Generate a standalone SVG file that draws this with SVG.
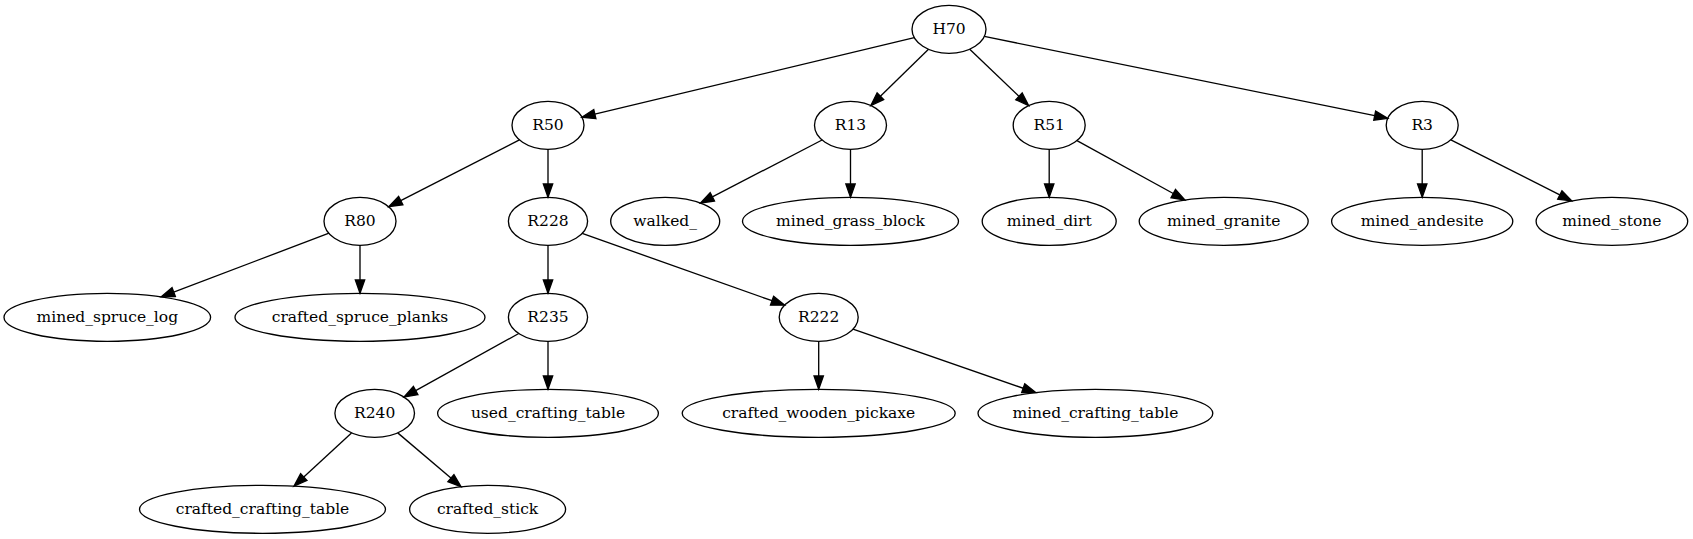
<svg xmlns="http://www.w3.org/2000/svg" width="1693" height="539" viewBox="0 0 1693 539">
<style>
.n ellipse{fill:none;stroke:#000;stroke-width:1.33}
.n text{font-family:"DejaVu Serif","Liberation Serif",serif;font-size:15.5px;text-anchor:middle;fill:#000}
.e line{stroke:#000;stroke-width:1.33;fill:none;marker-end:url(#ah)}
</style>
<defs>
<marker id="ah" markerUnits="userSpaceOnUse" orient="auto" refX="0" refY="0" markerWidth="16" markerHeight="12" viewBox="0 -6 16 12" overflow="visible">
<path d="M0,-4.67 L13.33,0 L0,4.67 Z" fill="#000" stroke="#000" stroke-width="1.33"/>
</marker>
</defs>
<rect width="1693" height="539" fill="#fff"/>
<g id="connectors" class="e">
<line x1="914.29" y1="37.61" x2="594.84" y2="114.09"/>
<line x1="928.5" y1="49.28" x2="880.38" y2="96.19"/>
<line x1="969.74" y1="49.17" x2="1019.01" y2="96.38"/>
<line x1="984.31" y1="36.46" x2="1374.7" y2="115.66"/>
<line x1="519.44" y1="139.91" x2="400.73" y2="200.62"/>
<line x1="548" y1="149.3" x2="548" y2="183.97"/>
<line x1="329.01" y1="233.17" x2="173.7" y2="292.1"/>
<line x1="360" y1="245.3" x2="360" y2="279.97"/>
<line x1="548" y1="245.3" x2="548" y2="279.97"/>
<line x1="582.18" y1="233.42" x2="772.03" y2="300.74"/>
<line x1="822.08" y1="140.03" x2="712.34" y2="196.88"/>
<line x1="850.5" y1="149.3" x2="850.5" y2="183.97"/>
<line x1="1049.2" y1="149.3" x2="1049.2" y2="183.97"/>
<line x1="1076.97" y1="140.58" x2="1173.26" y2="193.54"/>
<line x1="1422.2" y1="149.3" x2="1422.2" y2="183.97"/>
<line x1="1450.87" y1="139.81" x2="1559.8" y2="194.93"/>
<line x1="518.77" y1="333.49" x2="415.67" y2="390.6"/>
<line x1="548" y1="341.3" x2="548" y2="375.97"/>
<line x1="818.7" y1="341.3" x2="818.7" y2="375.97"/>
<line x1="853" y1="329.2" x2="1023.21" y2="388.25"/>
<line x1="351.5" y1="433" x2="303.79" y2="477.06"/>
<line x1="397.72" y1="432.88" x2="450.9" y2="478.1"/>
</g>
<g id="H70" class="n"><ellipse cx="949" cy="29.3" rx="37" ry="24"/><text x="949" y="34.3">H70</text></g>
<g id="R50" class="n"><ellipse cx="548" cy="125.3" rx="36" ry="24"/><text x="548" y="130.3">R50</text></g>
<g id="R13" class="n"><ellipse cx="850.5" cy="125.3" rx="36" ry="24"/><text x="850.5" y="130.3">R13</text></g>
<g id="R51" class="n"><ellipse cx="1049.2" cy="125.3" rx="36" ry="24"/><text x="1049.2" y="130.3">R51</text></g>
<g id="R3" class="n"><ellipse cx="1422.2" cy="125.3" rx="36" ry="24"/><text x="1422.2" y="130.3">R3</text></g>
<g id="R80" class="n"><ellipse cx="360" cy="221.3" rx="36" ry="24"/><text x="360" y="226.3">R80</text></g>
<g id="R228" class="n"><ellipse cx="548" cy="221.3" rx="39.6" ry="24"/><text x="548" y="226.3">R228</text></g>
<g id="walked_" class="n"><ellipse cx="665.2" cy="221.3" rx="54.5" ry="24"/><text x="665.2" y="226.3">walked_</text></g>
<g id="mined_grass_block" class="n"><ellipse cx="850.5" cy="221.3" rx="108" ry="24"/><text x="850.5" y="226.3">mined_grass_block</text></g>
<g id="mined_dirt" class="n"><ellipse cx="1049.2" cy="221.3" rx="67" ry="24"/><text x="1049.2" y="226.3">mined_dirt</text></g>
<g id="mined_granite" class="n"><ellipse cx="1223.7" cy="221.3" rx="84.5" ry="24"/><text x="1223.7" y="226.3">mined_granite</text></g>
<g id="mined_andesite" class="n"><ellipse cx="1422.2" cy="221.3" rx="90.6" ry="24"/><text x="1422.2" y="226.3">mined_andesite</text></g>
<g id="mined_stone" class="n"><ellipse cx="1611.9" cy="221.3" rx="75.8" ry="24"/><text x="1611.9" y="226.3">mined_stone</text></g>
<g id="mined_spruce_log" class="n"><ellipse cx="107.3" cy="317.3" rx="103.3" ry="24"/><text x="107.3" y="322.3">mined_spruce_log</text></g>
<g id="crafted_spruce_planks" class="n"><ellipse cx="360" cy="317.3" rx="125" ry="24"/><text x="360" y="322.3">crafted_spruce_planks</text></g>
<g id="R235" class="n"><ellipse cx="548" cy="317.3" rx="39.6" ry="24"/><text x="548" y="322.3">R235</text></g>
<g id="R222" class="n"><ellipse cx="818.7" cy="317.3" rx="39.5" ry="24"/><text x="818.7" y="322.3">R222</text></g>
<g id="R240" class="n"><ellipse cx="374.7" cy="413.3" rx="39.8" ry="24"/><text x="374.7" y="418.3">R240</text></g>
<g id="used_crafting_table" class="n"><ellipse cx="548" cy="413.3" rx="110.4" ry="24"/><text x="548" y="418.3">used_crafting_table</text></g>
<g id="crafted_wooden_pickaxe" class="n"><ellipse cx="818.7" cy="413.3" rx="136.5" ry="24"/><text x="818.7" y="418.3">crafted_wooden_pickaxe</text></g>
<g id="mined_crafting_table" class="n"><ellipse cx="1095.4" cy="413.3" rx="117.4" ry="24"/><text x="1095.4" y="418.3">mined_crafting_table</text></g>
<g id="crafted_crafting_table" class="n"><ellipse cx="262.5" cy="509.3" rx="123" ry="24"/><text x="262.5" y="514.3">crafted_crafting_table</text></g>
<g id="crafted_stick" class="n"><ellipse cx="487.6" cy="509.3" rx="78" ry="24"/><text x="487.6" y="514.3">crafted_stick</text></g>
</svg>
